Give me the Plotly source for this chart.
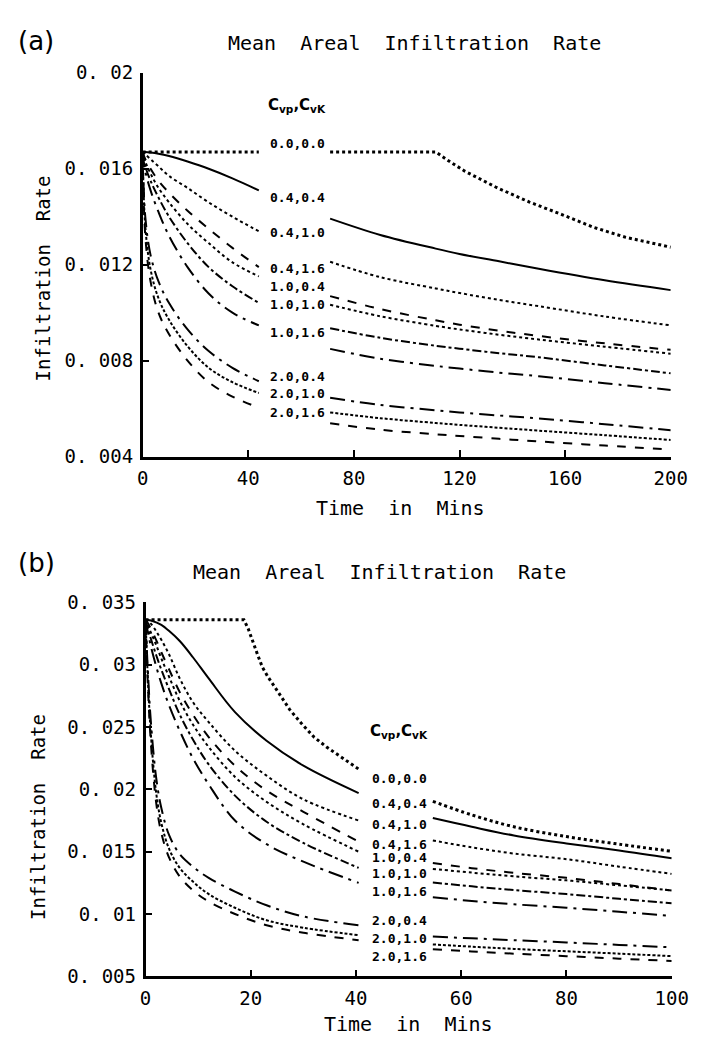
import plotly.graph_objects as go

# ---------------- data ----------------
labels = ["0.0,0.0", "0.4,0.4", "0.4,1.0", "0.4,1.6", "1.0,0.4",
          "1.0,1.0", "1.0,1.6", "2.0,0.4", "2.0,1.0", "2.0,1.6"]

# Panel (a)
a_t_left = [0, 1, 3, 6, 10, 17, 25, 34, 44]
a_left = [
    [0.0167, 0.0167, 0.0167, 0.0167, 0.0167, 0.0167, 0.0167, 0.0167, 0.0167],
    [0.0167, 0.0167, 0.01668, 0.01663, 0.01653, 0.0163, 0.0160, 0.0156, 0.0151],
    [0.0167, 0.0166, 0.0164, 0.0161, 0.0157, 0.0152, 0.0146, 0.0140, 0.01339],
    [0.0167, 0.0164, 0.0160, 0.0155, 0.0150, 0.01425, 0.0135, 0.0127, 0.0119],
    [0.0167, 0.0163, 0.0158, 0.0152, 0.0146, 0.0137, 0.0129, 0.0121, 0.01151],
    [0.0167, 0.0161, 0.0155, 0.0148, 0.0140, 0.0129, 0.0119, 0.0111, 0.01041],
    [0.0167, 0.0159, 0.0151, 0.0142, 0.0132, 0.0119, 0.0108, 0.0100, 0.00947],
    [0.0167, 0.0140, 0.0124, 0.0113, 0.0104, 0.0093, 0.0084, 0.0077, 0.00714],
    [0.0167, 0.0136, 0.0118, 0.0106, 0.0097, 0.0086, 0.0077, 0.0071, 0.00665],
    [0.0167, 0.0132, 0.0113, 0.0100, 0.0091, 0.0080, 0.0071, 0.0065, 0.00604],
]
a00_t_right = [71, 111, 116, 122, 134, 146.5, 159, 171, 183, 200]
a00_right = [0.0167, 0.0167, 0.01632, 0.0159, 0.01522, 0.01461, 0.01408, 0.01355, 0.01314, 0.01273]
a_t_right = [71, 90, 111, 120, 135, 150, 175, 200]
a_right = [
    [0.01392, 0.01324, 0.01267, 0.01245, 0.01214, 0.01183, 0.01135, 0.01094],
    [0.01212, 0.01148, 0.01101, 0.01082, 0.01053, 0.01027, 0.00984, 0.00947],
    [0.01069, 0.01015, 0.00968, 0.0095, 0.00925, 0.00903, 0.00872, 0.00845],
    [0.01033, 0.00985, 0.00945, 0.0093, 0.00908, 0.00888, 0.00858, 0.00829],
    [0.00935, 0.00895, 0.00862, 0.0085, 0.00831, 0.00814, 0.0078, 0.00747],
    [0.00849, 0.00808, 0.00778, 0.00767, 0.0075, 0.00735, 0.00706, 0.00678],
    [0.00645, 0.00615, 0.00593, 0.00584, 0.00571, 0.00559, 0.00535, 0.0051],
    [0.00584, 0.0056, 0.0054, 0.00532, 0.0052, 0.00508, 0.00489, 0.00469],
    [0.00539, 0.00512, 0.00493, 0.00486, 0.00474, 0.00463, 0.00446, 0.00429],
]

# Panel (b)
b00_t_left = [0, 18.7, 19.5, 20.4, 21.3, 22.2, 23.3, 25.2, 27.4, 29.6, 32.0, 34.4, 37.5, 40.6]
b00_left = [0.0336, 0.0336, 0.0329, 0.0318, 0.0308, 0.0298, 0.0290, 0.0278,
            0.0264, 0.0253, 0.0242, 0.0234, 0.0225, 0.0216]
b_t_left = [0, 0.5, 1, 2, 3, 4.5, 6.5, 9, 12, 17, 23, 30, 40.5]
b_left = [
    [0.0336, 0.03359, 0.03355, 0.0334, 0.0332, 0.0327, 0.0319, 0.0306, 0.0289, 0.0262, 0.0239, 0.0219, 0.0197],
    [0.0336, 0.0335, 0.0333, 0.0327, 0.0320, 0.0308, 0.0289, 0.0270, 0.0254, 0.0231, 0.0211, 0.0192, 0.0175],
    [0.0336, 0.0333, 0.0329, 0.0320, 0.0310, 0.0296, 0.0278, 0.0260, 0.0242, 0.0219, 0.0199, 0.0182, 0.0158],
    [0.0336, 0.0331, 0.0326, 0.0316, 0.0305, 0.0290, 0.0271, 0.0252, 0.0234, 0.0210, 0.0190, 0.0172, 0.0150],
    [0.0336, 0.0328, 0.0321, 0.0308, 0.0296, 0.0280, 0.0260, 0.0240, 0.0220, 0.0195, 0.0174, 0.0157, 0.0137],
    [0.0336, 0.0325, 0.0315, 0.0299, 0.0285, 0.0267, 0.0247, 0.0225, 0.0204, 0.0175, 0.0156, 0.0142, 0.0125],
    [0.0336, 0.0290, 0.0255, 0.0210, 0.0185, 0.0163, 0.0148, 0.0138, 0.0129, 0.0118, 0.0107, 0.0098, 0.0091],
    [0.0336, 0.0283, 0.0245, 0.0198, 0.0173, 0.0152, 0.0137, 0.0126, 0.0116, 0.0105, 0.0095, 0.0089, 0.0083],
    [0.0336, 0.0278, 0.0238, 0.0190, 0.0165, 0.0145, 0.0130, 0.0119, 0.0110, 0.0100, 0.0091, 0.0085, 0.0079],
]
b_t_right = [54.6, 62, 70, 80, 90, 100]
b_right = [
    [0.01904, 0.01795, 0.0170, 0.01621, 0.0156, 0.01503],
    [0.0177, 0.0170, 0.0163, 0.01566, 0.0151, 0.01448],
    [0.0159, 0.01535, 0.01485, 0.0144, 0.0138, 0.01322],
    [0.01409, 0.01368, 0.0133, 0.0129, 0.0124, 0.01189],
    [0.01362, 0.01332, 0.01302, 0.0127, 0.0123, 0.01189],
    [0.01252, 0.01222, 0.01192, 0.0116, 0.01122, 0.01086],
    [0.01134, 0.01105, 0.01078, 0.0105, 0.01018, 0.00984],
    [0.00819, 0.00805, 0.0079, 0.00772, 0.00752, 0.00733],
    [0.00756, 0.00738, 0.0072, 0.00701, 0.00682, 0.00662],
    [0.00717, 0.007, 0.00682, 0.00662, 0.00642, 0.00623],
]

a_yticks = [0.004, 0.008, 0.012, 0.016, 0.02]
a_yticktext = ["0. 004", "0. 008", "0. 012", "0. 016", "0. 02"]
a_xticks = [0, 40, 80, 120, 160, 200]
b_yticks = [0.005, 0.01, 0.015, 0.02, 0.025, 0.03, 0.035]
b_yticktext = ["0. 005", "0. 01", "0. 015", "0. 02", "0. 025", "0. 03", "0. 035"]
b_xticks = [0, 20, 40, 60, 80, 100]

# label positions (data coordinates)
a_lab_x = 58.6
a_lab_y = [0.01706, 0.01482, 0.01335, 0.01184, 0.0111, 0.01033, 0.00918, 0.00735, 0.00661, 0.00584]
a_head_y = 0.01865
b_lab_x = 48.2
b_lab_y = [0.02085, 0.01888, 0.01715, 0.01558, 0.01456, 0.01322, 0.01181, 0.00945, 0.00803, 0.00662]
b_head_y = 0.02462

# ---------------- styles ----------------
dashes = ["dot", "solid", "dot", "dash", "dot", "dashdot", "longdashdot",
          "longdashdot", "3px,2px", "dash"]
widths = [3, 2, 2, 2, 2, 2, 2, 2, 2, 2]

W, H = 702, 1041
def px(x): return x / W
def py(y): return 1 - y / H

fig = go.Figure()

def add(t, v, i, xa, ya, shape="spline"):
    line = dict(color="black", width=widths[i], dash=dashes[i], shape=shape)
    if shape == "spline":
        line["smoothing"] = 1.0
    fig.add_trace(go.Scatter(x=t, y=v, mode="lines", xaxis=xa, yaxis=ya,
                             showlegend=False, line=line))

add(a_t_left, a_left[0], 0, "x", "y", "linear")
add(a00_t_right, a00_right, 0, "x", "y", "linear")
for i in range(1, 10):
    add(a_t_left, a_left[i], i, "x", "y")
    add(a_t_right, a_right[i - 1], i, "x", "y")

add(b00_t_left, b00_left, 0, "x2", "y2", "linear")
for i in range(1, 10):
    add(b_t_left, b_left[i - 1], i, "x2", "y2")
for i in range(10):
    add(b_t_right, b_right[i], i, "x2", "y2")

tickfont = dict(family="DejaVu Sans Mono", size=19, color="black")
axcommon = dict(showgrid=False, zeroline=False, showline=True, linecolor="black",
                linewidth=2.5, ticks="inside", ticklen=7, tickwidth=2, tickcolor="black",
                tickfont=tickfont, mirror=False, ticklabelstandoff=3)

fig.update_layout(
    width=W, height=H, margin=dict(l=0, r=0, t=0, b=0),
    paper_bgcolor="white", plot_bgcolor="white",
    xaxis=dict(domain=[px(133), px(679)], range=[0, 200], tickvals=a_xticks, anchor="y", **axcommon),
    yaxis=dict(domain=[py(447), py(55)], range=[0.004, 0.02], tickvals=a_yticks,
               ticktext=a_yticktext, anchor="x", **axcommon),
    xaxis2=dict(domain=[px(136), px(680)], range=[0, 100], tickvals=b_xticks, anchor="y2", **axcommon),
    yaxis2=dict(domain=[py(978), py(596)], range=[0.005, 0.035], tickvals=b_yticks,
                ticktext=b_yticktext, anchor="x2", **axcommon),
)

ann = []
def pa(text, x, y, size=20, angle=0, xanchor="center", family="DejaVu Sans Mono"):
    ann.append(dict(text=text, x=px(x), y=py(y), xref="paper", yref="paper",
                    showarrow=False, xanchor=xanchor, yanchor="middle", textangle=angle,
                    font=dict(family=family, size=size, color="black")))

pa("(a)", 2, 22, 26, xanchor="left", family="DejaVu Sans")
pa("Mean  Areal  Infiltration  Rate", 414, 25, 20)
pa("Time  in  Mins", 400, 500, 20)
pa("Infiltration  Rate", 30, 265, 19, angle=-90)
pa("(b)", 2, 556, 26, xanchor="left", family="DejaVu Sans")
pa("Mean  Areal  Infiltration  Rate", 378, 565, 20)
pa("Time  in  Mins", 408, 1027, 20)
pa("Infiltration  Rate", 25, 815, 19, angle=-90)

lf = dict(family="DejaVu Sans Mono", size=13, color="black")
for i in range(10):
    ann.append(dict(text="<b>" + labels[i] + "</b>", x=a_lab_x, y=a_lab_y[i], xref="x", yref="y",
                    showarrow=False, font=lf, xanchor="center", yanchor="middle"))
    ann.append(dict(text="<b>" + labels[i] + "</b>", x=b_lab_x, y=b_lab_y[i], xref="x2", yref="y2",
                    showarrow=False, font=lf, xanchor="center", yanchor="middle"))
head = "<b>C<sub>vp</sub>,C<sub>vK</sub></b>"
hf = dict(family="DejaVu Sans", size=15, color="black")
ann.append(dict(text=head, x=a_lab_x, y=a_head_y, xref="x", yref="y", showarrow=False, font=hf))
ann.append(dict(text=head, x=b_lab_x, y=b_head_y, xref="x2", yref="y2", showarrow=False, font=hf))
fig.update_layout(annotations=ann)

fig.write_html("out.html")
